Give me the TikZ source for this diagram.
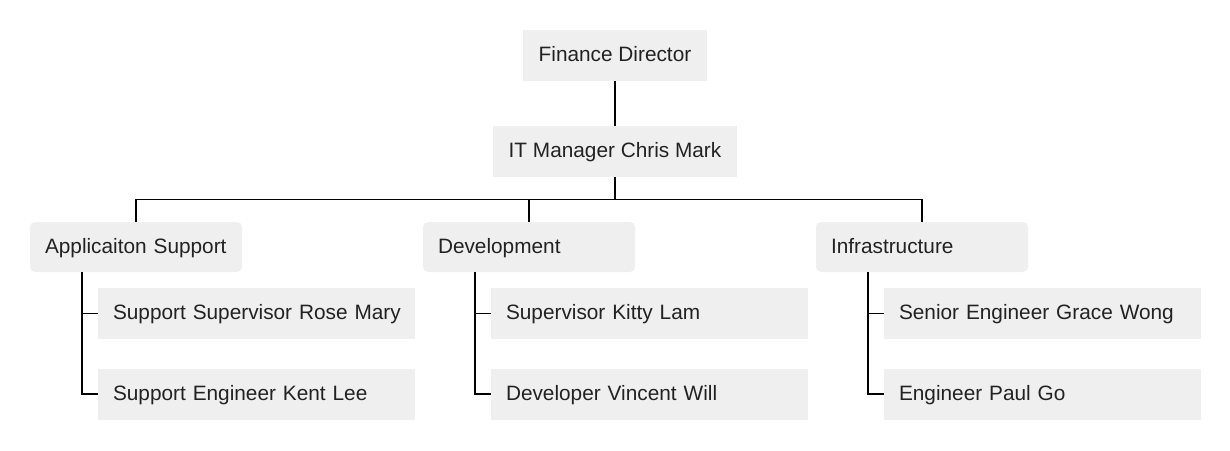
\documentclass[tikz,border=0pt]{standalone}
\usepackage{fontspec}
\setmainfont{Liberation Sans}
\definecolor{boxfill}{RGB}{239,239,239}
\definecolor{txt}{RGB}{34,34,34}
\hfuzz=20pt
\begin{document}
\begin{tikzpicture}[x=1pt,y=-1pt,
  base/.style={fill=boxfill,draw=none,text=txt,inner ysep=0pt,text height=15pt,text depth=3pt,font=\fontsize{20.8}{24}\selectfont,anchor=center},
  topbox/.style={base,minimum height=51pt,inner xsep=0pt},
  groupbox/.style={base,rounded corners=5pt,minimum height=50pt,text width=182pt,inner xsep=15pt,align=left},
  childbox/.style={base,minimum height=51pt,text width=287pt,inner xsep=15pt,align=left},
  conn/.style={draw=black,line width=1.5pt}]
\useasboundingbox (0,0) rectangle (1230,450);
\node[topbox,minimum width=184pt] (fd) at (615,55.5) {Finance Director};
\node[topbox,minimum width=244pt] (it) at (615,151.5) {IT Manager Chris Mark};
\node[groupbox] (app) at (136,247) {\mbox{Applicaiton Support}};
\node[groupbox] (dev) at (529,247) {\mbox{Development}};
\node[groupbox] (inf) at (922,247) {\mbox{Infrastructure}};
\node[childbox] (a1) at (256.5,313.5) {\mbox{Support Supervisor Rose Mary}};
\node[childbox] (a2) at (256.5,394) {\mbox{Support Engineer Kent Lee}};
\node[childbox] (d1) at (649.5,313.5) {\mbox{Supervisor Kitty Lam}};
\node[childbox] (d2) at (649.5,394) {\mbox{Developer Vincent Will}};
\node[childbox] (i1) at (1042.5,313.5) {\mbox{Senior Engineer Grace Wong}};
\node[childbox] (i2) at (1042.5,394) {\mbox{Engineer Paul Go}};
\coordinate (bus) at (615,199.5);
\draw[conn] (fd.south) -- (it.north);
\draw[conn] (it.south) -- (bus);
\draw[conn] (app.north) -- (app.north |- bus) -- (inf.north |- bus) -- (inf.north);
\draw[conn] (dev.north) -- (dev.north |- bus);
\coordinate (ap) at ([xshift=52pt]app.south west);
\coordinate (dp) at ([xshift=52pt]dev.south west);
\coordinate (ip) at ([xshift=52pt]inf.south west);
\draw[conn] (ap) |- (a2.west);
\draw[conn] (ap |- a1.west) -- (a1.west);
\draw[conn] (dp) |- (d2.west);
\draw[conn] (dp |- d1.west) -- (d1.west);
\draw[conn] (ip) |- (i2.west);
\draw[conn] (ip |- i1.west) -- (i1.west);
\end{tikzpicture}
\end{document}
